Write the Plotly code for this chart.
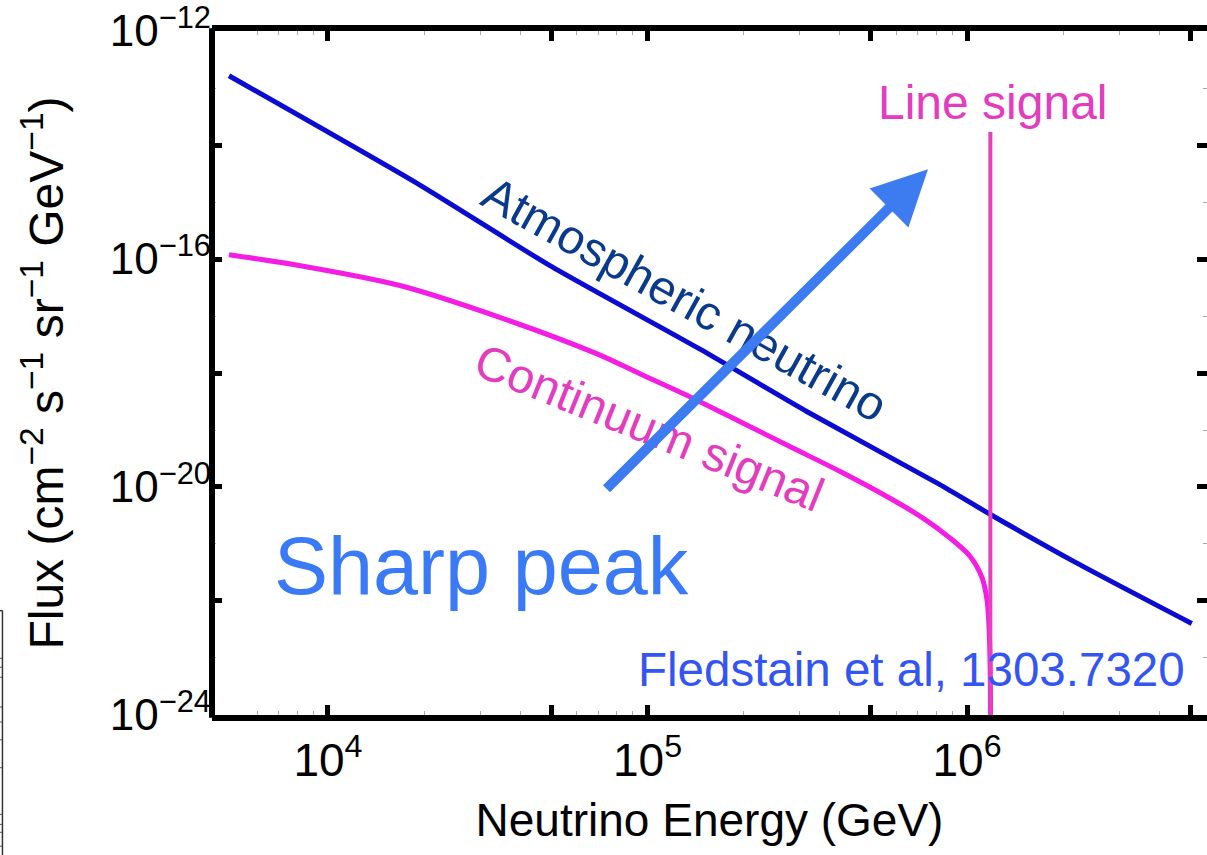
import plotly.graph_objects as go

# ---------------- data ----------------
atm_energy = [4.9e3, 1.94e4, 4.95e4, 1.46e5, 3.16e5, 8.2e5, 1.18e6, 2.2e6, 5.05e6]
atm_flux = [1.64e-13, 1.98e-15, 7.66e-17, 2.62e-18, 2.09e-19, 1.11e-20, 3.33e-21, 4.66e-22, 4.02e-23]

cont_energy = [4.9e3, 8.2e3, 1.68e4, 3.45e4, 7.1e4, 9.5e4, 1.36e5, 1.95e5, 2.79e5, 4.01e5,
               5.74e5, 7.28e5, 8.85e5, 1.02e6, 1.115e6, 1.156e6, 1.172e6, 1.183e6, 1.183e6]
cont_flux = [1.19e-16, 7.64e-17, 3.43e-17, 9.46e-18, 2.06e-18, 9.6e-19, 3.81e-19, 1.40e-19,
             5.12e-20, 1.87e-20, 6.34e-21, 2.84e-21, 1.27e-21, 6.17e-22, 2.55e-22, 1.01e-22,
             3.42e-23, 3.61e-24, 1e-25]

line_energy = [1.183e6, 1.183e6]
line_flux = [1.7e-14, 1e-25]

x_tickvals = [1e4, 5e4, 1e5, 5e5, 1e6, 5e6]
x_ticktext = ["10<sup>4</sup>", "", "10<sup>5</sup>", "", "10<sup>6</sup>", ""]
x_minor = [m * 10 ** d for d in range(3, 7) for m in (2, 3, 4, 6, 7, 8, 9)
           if 4.3e3 < m * 10 ** d < 5.6e6]

y_tickvals = [1e-12, 1e-14, 1e-16, 1e-18, 1e-20, 1e-22, 1e-24]
y_ticktext = ["10<sup>−12</sup>", "", "10<sup>−16</sup>", "", "10<sup>−20</sup>", "", "10<sup>−24</sup>"]
y_minor = [10.0 ** (-e) for e in (13, 15, 17, 19, 21, 23)]

FONT = "Liberation Sans, Arial, sans-serif"
MAGENTA_TXT = "#e33cbe"

fig = go.Figure()
fig.add_trace(go.Scatter(x=atm_energy, y=atm_flux, mode="lines",
                         line=dict(color="#0b0bd2", width=5, shape="spline", smoothing=0.6),
                         showlegend=False))
fig.add_trace(go.Scatter(x=cont_energy, y=cont_flux, mode="lines",
                         line=dict(color="#f41de4", width=5, shape="spline", smoothing=0.8),
                         showlegend=False))
fig.add_trace(go.Scatter(x=line_energy, y=line_flux, mode="lines",
                         line=dict(color="#e83fc0", width=4), showlegend=False))

fig.update_xaxes(
    type="log", range=[3.637, 6.751],
    showline=True, linewidth=6, linecolor="black", mirror="ticks",
    ticks="inside", ticklen=10, tickwidth=5, tickcolor="black",
    tickvals=x_tickvals, ticktext=x_ticktext,
    minor=dict(tickvals=x_minor, ticks="inside", ticklen=4, tickwidth=1, tickcolor="#aaaaaa"),
    tickfont=dict(family=FONT, size=46, color="black"),
    ticklabeloverflow="allow",
    title=dict(text="Neutrino Energy (GeV)", font=dict(family=FONT, size=46, color="black"), standoff=21),
    showgrid=False, zeroline=False,
)
fig.update_yaxes(
    type="log", range=[-24.0005, -11.9995],
    showline=False, mirror="ticks",
    ticks="inside", ticklen=10, tickwidth=5, tickcolor="black",
    tickvals=y_tickvals, ticktext=y_ticktext,
    minor=dict(tickvals=y_minor, ticks="inside", ticklen=4, tickwidth=1, tickcolor="#aaaaaa"),
    tickfont=dict(family=FONT, size=44, color="black"),
    ticklabeloverflow="allow",
    title=dict(text="Flux (cm<sup>−2</sup> s<sup>−1</sup> sr<sup>−1</sup> GeV<sup>−1</sup>)",
               font=dict(family=FONT, size=48, color="black"), standoff=30),
    showgrid=False, zeroline=False,
)

# left frame line
shapes = [dict(type="line", xref="paper", yref="paper", x0=0, x1=0, y0=-0.004, y1=1.004,
               line=dict(color="black", width=6))]
# stray partial frame at the far bottom-left edge of the image
shapes.append(dict(type="line", xref="paper", yref="paper", x0=-0.2106, x1=-0.2106, y0=0.1526, y1=-0.21,
                   line=dict(color="#333333", width=1.5)))
shapes.append(dict(type="line", xref="paper", yref="paper", x0=-0.2135, x1=-0.2106, y0=0.1526, y1=0.1526,
                   line=dict(color="#333333", width=1.5)))
for py in (658, 667, 677, 707, 722, 740, 768, 815, 825, 833, 847):
    yp = (715 - py) / 688
    shapes.append(dict(type="line", xref="paper", yref="paper", x0=-0.2135, x1=-0.2110, y0=yp, y1=yp,
                       line=dict(color="#555555", width=1)))

C = dict(xanchor="center", yanchor="middle", showarrow=False, xref="paper", yref="paper")
annotations = [
    dict(text="Atmospheric neutrino", x=0.4754, y=0.6076, textangle=29,
         font=dict(family=FONT, size=48, color="#0a3a8c"), **C),
    dict(text="Continuum signal", x=0.4392, y=0.4201, textangle=22,
         font=dict(family=FONT, size=48, color=MAGENTA_TXT), **C),
    dict(text="Line signal", x=0.785, y=0.8953,
         font=dict(family=FONT, size=48, color=MAGENTA_TXT), **C),
    dict(text="Sharp peak", x=0.2709, y=0.218,
         font=dict(family=FONT, size=81, color="#3a7af7"), **C),
    dict(text="Fledstain et al, 1303.7320", x=0.7035, y=0.0669,
         font=dict(family=FONT, size=47.5, color="#3355f2"), **C),
    dict(text="", xref="paper", yref="paper", x=0.7196, y=0.798, ax=-323, ay=321,
         showarrow=True, arrowhead=2, arrowsize=1.1, arrowwidth=10, arrowcolor="#3c7cf0"),
]

fig.update_layout(
    width=1207, height=855, autosize=False,
    margin=dict(l=212, r=0, t=27, b=140),
    paper_bgcolor="white", plot_bgcolor="white",
    shapes=shapes, annotations=annotations,
    font=dict(family=FONT),
)

fig.write_html("out.html")
